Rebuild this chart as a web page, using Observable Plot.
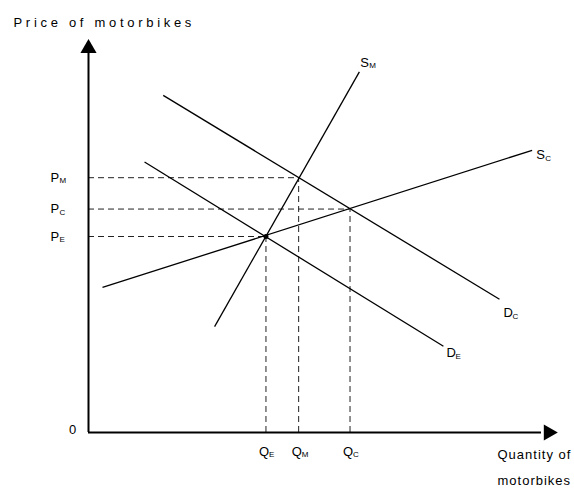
<!DOCTYPE html>
<html><head><meta charset="utf-8">
<script src="https://cdn.jsdelivr.net/npm/d3@7"></script>
<script src="https://cdn.jsdelivr.net/npm/@observablehq/plot@0.6"></script>
<style>
body{margin:0;background:#fff;}
</style>
</head><body><div id="chart"></div>
<script>
// Curves
const curveNames = ["S", "S", "D", "D"];
const curveSubs = ["M", "C", "C", "E"];
const curveStart = [[27, 27], [3, 37], [16, 86], [12, 69]];
const curveEnd = [[58, 92], [95, 72], [88, 34], [76, 22]];
// label offsets (px) relative to curve end
const curveLabelDx = [1, 4, 4, 3];
const curveLabelDy = [-9, 5, 14, 7];

// Equilibria
const eqNames = ["E", "M", "C"];
const eqQ = [38, 45, 56];
const eqP = [50, 65, 57];

const yTitle = "Price of motorbikes";
const xTitle = "Quantity of\nmotorbikes";

const curves = curveNames.map((n, i) => ({name: n, sub: curveSubs[i], q1: curveStart[i][0], p1: curveStart[i][1], q2: curveEnd[i][0], p2: curveEnd[i][1], dx: curveLabelDx[i], dy: curveLabelDy[i]}));
const eqs = eqNames.map((n, i) => ({name: n, q: eqQ[i], p: eqP[i]}));

const font = "Liberation Sans, Arial, sans-serif";
const chart = Plot.plot({
  width: 574, height: 493,
  marginLeft: 88, marginTop: 40, marginRight: 19, marginBottom: 61,
  x: {domain: [0, 100], axis: null},
  y: {domain: [0, 100], axis: null},
  style: {fontFamily: font, background: "#fff", color: "#000"},
  marks: [
    // dashed guides
    Plot.ruleY(eqs, {y: "p", x1: 0, x2: "q", stroke: "#222", strokeWidth: 1, strokeDasharray: "6,4"}),
    Plot.ruleX(eqs, {x: "q", y1: 0, y2: "p", stroke: "#222", strokeWidth: 1, strokeDasharray: "6,4"}),
    // axes
    Plot.ruleX([0], {y1: 0, y2: 97, stroke: "#000", strokeWidth: 2}),
    Plot.ruleY([0], {x1: 0, x2: 97, stroke: "#000", strokeWidth: 2}),
    Plot.dot([{x: 0, y: 98}], {x: "x", y: "y", symbol: "triangle", r: 6, fill: "#000", stroke: "none"}),
    Plot.dot([{x: 98.5, y: 0}], {x: "x", y: "y", symbol: "triangle", r: 6, fill: "#000", stroke: "none", rotate: 90}),
    // curves
    Plot.link(curves, {x1: "q1", y1: "p1", x2: "q2", y2: "p2", stroke: "#000", strokeWidth: 1.3}),
    Plot.dot([eqs[0]], {x: "q", y: "p", r: 2.5, fill: "#000"}),
    // curve labels
    ...curves.map(c => Plot.text([c], {x: "q2", y: "p2", text: "name", dx: c.dx, dy: c.dy, textAnchor: "start", fontSize: 13, fill: "#000"})),
    ...curves.map(c => Plot.text([c], {x: "q2", y: "p2", text: "sub", dx: c.dx + 9, dy: c.dy + 3, textAnchor: "start", fontSize: 8, fill: "#000"})),
    // price labels
    Plot.text(eqs, {x: 0, y: "p", text: d => "P", dx: -38, textAnchor: "start", fontSize: 13, fill: "#000"}),
    Plot.text(eqs, {x: 0, y: "p", text: "name", dx: -29, dy: 3, textAnchor: "start", fontSize: 8, fill: "#000"}),
    // quantity labels
    Plot.text(eqs, {x: "q", y: 0, text: d => "Q", dx: -7, dy: 19, textAnchor: "start", fontSize: 13, fill: "#000"}),
    Plot.text(eqs, {x: "q", y: 0, text: "name", dx: 3, dy: 22, textAnchor: "start", fontSize: 8, fill: "#000"}),
    Plot.text([0], {x: 0, y: 0, text: d => "0", dx: -16, dy: -3, fontSize: 13, fill: "#000"}),
    // axis titles
    Plot.text([yTitle], {frameAnchor: "top-left", text: d => d, dx: -75, dy: -23, textAnchor: "start", fontSize: 13, fill: "#000"}),
    Plot.text([xTitle], {frameAnchor: "bottom-right", text: d => d, dx: -58, dy: 9, textAnchor: "start", lineAnchor: "top", lineHeight: 1.95, fontSize: 13, fill: "#000"})
  ]
});
for (const t of chart.querySelectorAll("text")) {
  const s = t.textContent;
  if (s === yTitle) t.setAttribute("letter-spacing", "3.7");
  else if (s.startsWith("Quantity")) t.setAttribute("letter-spacing", "1");
}
document.getElementById("chart").appendChild(chart);
</script>
</body></html>
